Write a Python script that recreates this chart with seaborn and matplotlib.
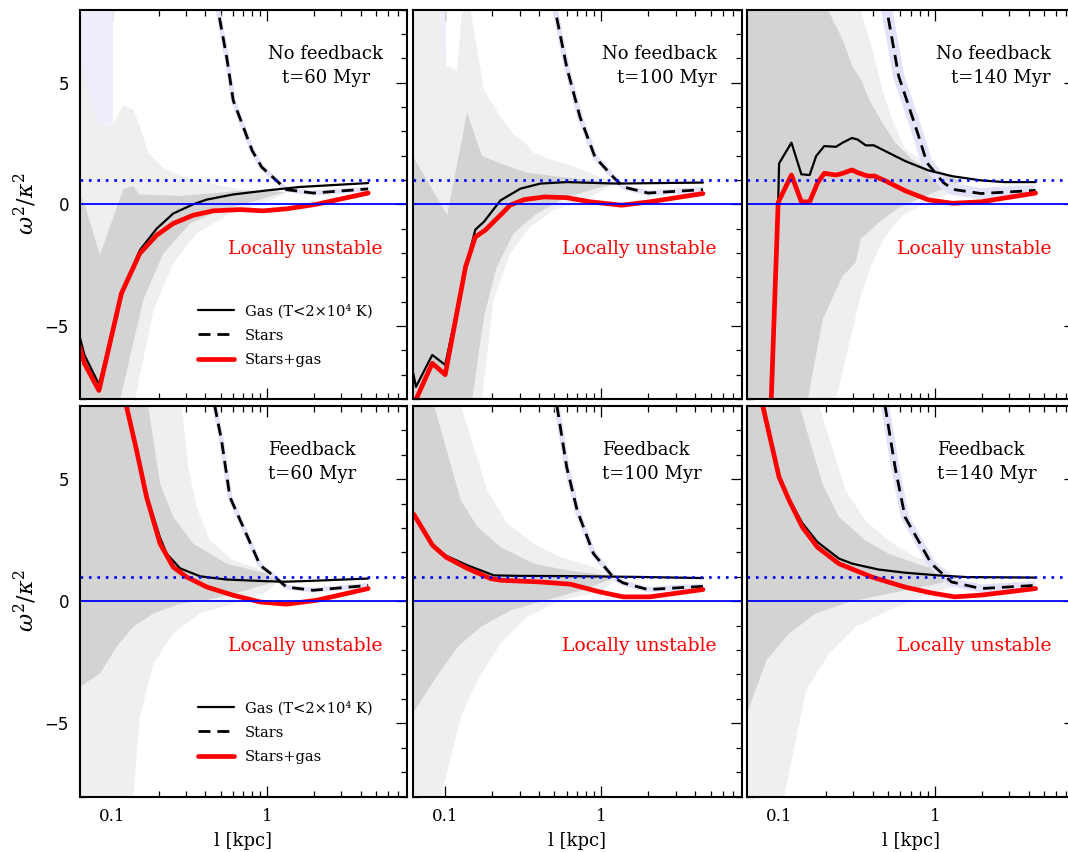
import numpy as np
import matplotlib
matplotlib.use("Agg")
import matplotlib.pyplot as plt
import seaborn as sns
from matplotlib.ticker import FixedLocator, FixedFormatter, MultipleLocator, NullFormatter
from matplotlib.lines import Line2D

# ---------------- data ----------------
# Panel A : No feedback, t=60 Myr
A_gas_l = [0.062, 0.0665, 0.0824, 0.118, 0.151, 0.194, 0.248, 0.334, 0.407, 0.60, 1.0, 1.62, 4.47]
A_gas_v = [-5.46, -6.2, -7.4, -3.5, -1.89, -1.0, -0.38, 0.0, 0.19, 0.40, 0.57, 0.71, 0.87]
A_sg_l = [0.062, 0.0665, 0.0824, 0.115, 0.151, 0.194, 0.248, 0.334, 0.449, 0.667, 0.94, 1.33, 2.08, 4.47]
A_sg_v = [-5.85, -6.55, -7.65, -3.66, -2.02, -1.27, -0.79, -0.45, -0.27, -0.22, -0.27, -0.19, 0.0, 0.46]
A_st_l = [0.47, 0.483, 0.548, 0.604, 0.68, 0.80, 0.92, 1.33, 1.98, 4.47]
A_st_v = [8.6, 7.95, 6.04, 4.26, 3.4, 2.2, 1.53, 0.6, 0.46, 0.63]
A_lg_hi_l = [0.0622, 0.0817, 0.102, 0.118, 0.137, 0.151, 0.171, 0.214, 0.274, 0.45, 0.667, 1.0, 1.35]
A_lg_hi_v = [5.94, 3.28, 3.28, 4.06, 3.89, 3.21, 2.12, 1.5, 1.16, 0.82, 0.61, 0.55, 0.5]
A_lg_lo_l = [0.0622, 0.13, 0.141, 0.185, 0.248, 0.35, 0.575, 0.94, 1.35]
A_lg_lo_v = [-9, -9, -8, -4.34, -2.43, -1.2, -0.38, 0.03, 0.5]
A_dg_hi_l = [0.0622, 0.0667, 0.0836, 0.118, 0.137, 0.15, 0.274, 0.45, 0.667, 1.0, 1.3]
A_dg_hi_v = [0.41, 0.0, -2.09, 0.61, 0.75, 0.4, 0.34, 0.45, 0.55, 0.55, 0.5]
A_dg_lo_l = [0.0622, 0.105, 0.113, 0.159, 0.214, 0.318, 0.496, 0.8, 1.3]
A_dg_lo_v = [-9, -9, -8, -3.93, -2.02, -0.79, -0.25, 0.1, 0.5]
A_patch_l = [0.0622, 0.102, 0.102, 0.0622]
A_patch_v = [9, 9, 3.28, 3.28]

# Panel B : No feedback, t=100 Myr
B_gas_l = [0.0622, 0.065, 0.0826, 0.1, 0.138, 0.156, 0.177, 0.226, 0.303, 0.407, 0.6, 1.25, 4.47]
B_gas_v = [-6.9, -7.5, -6.19, -6.6, -2.36, -1.04, -0.72, 0.16, 0.64, 0.85, 0.91, 0.85, 0.89]
B_sg_l = [0.0622, 0.0826, 0.1, 0.135, 0.156, 0.18, 0.237, 0.26, 0.32, 0.43, 0.6, 0.85, 1.35, 2.04, 4.47]
B_sg_v = [-8.3, -6.53, -7.0, -2.57, -1.34, -1.07, -0.31, -0.04, 0.19, 0.3, 0.27, 0.1, -0.04, 0.1, 0.44]
B_st_l = [0.49, 0.507, 0.6, 0.73, 0.91, 1.19, 1.38, 1.99, 4.47]
B_st_v = [8.6, 7.95, 5.63, 3.58, 1.94, 1.12, 0.71, 0.46, 0.6]
B_lg_hi_l = [0.0622, 0.0895, 0.1, 0.119, 0.128, 0.145, 0.177, 0.225, 0.274, 0.317, 0.367, 0.47, 0.66, 0.9, 1.25]
B_lg_hi_v = [12, 8.5, 5.74, 5.46, 8.0, 8.0, 4.71, 3.62, 2.87, 2.6, 2.12, 1.84, 1.57, 1.2, 0.85]
B_lg_lo_l = [0.0622, 0.165, 0.172, 0.204, 0.26, 0.35, 0.49, 0.73, 1.25]
B_lg_lo_v = [-9, -9, -8, -3.93, -2.02, -0.93, -0.25, 0.1, 0.85]
B_dg_hi_l = [0.0622, 0.103, 0.138, 0.172, 0.249, 0.333, 0.49, 0.8, 1.2]
B_dg_hi_v = [1.98, -0.45, 3.76, 1.98, 1.57, 1.3, 1.16, 1.0, 0.85]
B_dg_lo_l = [0.0622, 0.14, 0.149, 0.177, 0.214, 0.274, 0.385, 0.6, 1.0, 1.2]
B_dg_lo_v = [-9, -9, -8, -4.62, -2.57, -1.2, -0.38, 0.3, 0.7, 0.85]
B_patch_l = [0.0895, 0.101, 0.101, 0.0895]
B_patch_v = [9, 9, 5.6, 7.0]

# Panel C : No feedback, t=140 Myr
C_gas_l = [0.0885, 0.0986, 0.1, 0.12, 0.139, 0.157, 0.173, 0.195, 0.232, 0.256, 0.293, 0.319, 0.36, 0.406,
           0.482, 0.647, 0.91, 1.3, 1.98, 2.79, 4.44]
C_gas_v = [-8.5, 0.05, 1.68, 2.53, 1.23, 1.2, 1.98, 2.39, 2.36, 2.53, 2.72, 2.66, 2.42, 2.42,
           2.18, 1.77, 1.39, 1.15, 0.98, 0.91, 0.91]
C_sg_l = [0.0885, 0.0986, 0.12, 0.139, 0.157, 0.177, 0.195, 0.232, 0.256, 0.293, 0.32, 0.37, 0.41,
          0.482, 0.647, 0.91, 1.3, 1.98, 4.44]
C_sg_v = [-8.5, 0.07, 1.2, 0.1, 0.1, 0.89, 1.27, 1.2, 1.27, 1.41, 1.3, 1.16, 1.16,
          0.96, 0.55, 0.18, 0.04, 0.1, 0.46]
C_st_l = [0.48, 0.494, 0.586, 0.68, 0.787, 0.889, 1.135, 1.31, 1.98, 4.44]
C_st_v = [8.6, 7.92, 5.26, 4.03, 2.8, 1.71, 0.89, 0.61, 0.44, 0.57]
C_lg_hi_l = [0.0622, 0.334, 0.397, 0.46, 0.532, 0.647, 0.91, 1.41, 1.6]
C_lg_hi_v = [12, 8.0, 6.35, 4.71, 3.48, 2.25, 1.64, 1.02, 0.95]
C_lg_lo_l = [0.0622, 0.225, 0.232, 0.334, 0.397, 0.482, 0.616, 0.91, 1.41, 1.6]
C_lg_lo_v = [-9, -9, -8, -3.76, -2.39, -1.3, -0.48, 0.14, 0.55, 0.95]
C_dg_hi_l = [0.0622, 0.205, 0.256, 0.296, 0.343, 0.378, 0.46, 0.558, 0.714, 0.91, 1.28, 1.5]
C_dg_hi_v = [12, 8.0, 6.76, 5.67, 4.99, 4.3, 3.35, 2.53, 1.84, 1.43, 1.09, 0.95]
C_dg_lo_l = [0.0622, 0.145, 0.153, 0.191, 0.256, 0.311, 0.334, 0.437, 0.586, 0.87, 1.5]
C_dg_lo_v = [-9, -9, -8, -4.71, -2.94, -2.39, -1.43, -0.75, -0.14, 0.34, 0.95]

# Panel D : Feedback, t=60 Myr
D_gas_l = [0.118, 0.124, 0.144, 0.167, 0.204, 0.225, 0.274, 0.37, 0.548, 1.0, 1.3, 2.0, 4.47]
D_gas_v = [8.6, 8.0, 6.25, 4.35, 2.6, 1.95, 1.35, 1.02, 0.89, 0.82, 0.8, 0.84, 0.93]
D_sg_l = [0.118, 0.124, 0.144, 0.167, 0.204, 0.248, 0.303, 0.41, 0.6, 0.9, 1.33, 2.08, 4.47]
D_sg_v = [8.6, 7.98, 6.18, 4.27, 2.36, 1.4, 0.99, 0.58, 0.25, -0.03, -0.12, 0.04, 0.52]
D_st_l = [0.44, 0.46, 0.508, 0.575, 0.70, 0.9, 1.09, 1.33, 1.98, 4.47]
D_st_v = [8.8, 7.98, 6.58, 4.27, 3.04, 1.47, 1.06, 0.58, 0.45, 0.65]
D_lg_hi_l = [0.0622, 0.282, 0.31, 0.351, 0.427, 0.604, 1.0, 1.2]
D_lg_hi_v = [12, 8.0, 5.49, 3.86, 2.49, 1.68, 1.2, 0.9]
D_lg_lo_l = [0.0622, 0.13, 0.137, 0.151, 0.185, 0.248, 0.369, 0.604, 1.0, 1.2]
D_lg_lo_v = [-9, -9, -8, -4.73, -2.55, -1.32, -0.5, -0.1, 0.4, 0.9]
D_dg_hi_l = [0.0622, 0.171, 0.204, 0.248, 0.334, 0.548, 1.0, 1.15]
D_dg_hi_v = [12, 8.0, 4.81, 3.45, 2.36, 1.54, 1.13, 0.9]
D_dg_lo_l = [0.0622, 0.0837, 0.107, 0.137, 0.185, 0.274, 0.41, 0.6, 1.0, 1.15]
D_dg_lo_v = [-3.5, -2.96, -1.87, -1.05, -0.5, -0.1, 0.05, 0.3, 0.7, 0.9]

# Panel E : Feedback, t=100 Myr
E_gas_l = [0.062, 0.0635, 0.083, 0.101, 0.139, 0.205, 0.289, 0.6, 1.59, 4.47]
E_gas_v = [3.6, 3.52, 2.32, 1.87, 1.47, 1.06, 1.04, 1.03, 1.0, 0.95]
E_sg_l = [0.062, 0.0635, 0.083, 0.101, 0.139, 0.195, 0.226, 0.407, 0.632, 0.98, 1.38, 2.04, 4.47]
E_sg_v = [3.6, 3.52, 2.29, 1.81, 1.34, 0.93, 0.86, 0.79, 0.7, 0.38, 0.18, 0.18, 0.48]
E_st_l = [0.5, 0.52, 0.6, 0.70, 0.89, 1.19, 1.38, 1.99, 4.47]
E_st_v = [8.8, 7.98, 5.49, 3.72, 1.95, 0.99, 0.75, 0.48, 0.61]
E_lg_hi_l = [0.0622, 0.126, 0.186, 0.25, 0.369, 0.545, 0.89, 1.3]
E_lg_hi_v = [12, 8.0, 4.54, 3.18, 2.36, 1.81, 1.4, 0.95]
E_lg_lo_l = [0.0622, 0.09, 0.094, 0.126, 0.161, 0.226, 0.335, 0.545, 0.98, 1.3]
E_lg_lo_v = [-9, -9, -8, -4.73, -3.23, -1.73, -0.64, 0.04, 0.38, 0.95]
E_dg_hi_l = [0.0622, 0.085, 0.126, 0.161, 0.226, 0.369, 0.6, 0.98, 1.2]
E_dg_hi_v = [12, 8.0, 4.13, 3.04, 2.22, 1.54, 1.27, 1.1, 0.95]
E_dg_lo_l = [0.0622, 0.085, 0.12, 0.169, 0.262, 0.42, 0.75, 1.2]
E_dg_lo_v = [-4.59, -3.23, -1.87, -1.05, -0.37, 0.0, 0.45, 0.95]

# Panel F : Feedback, t=140 Myr
F_gas_l = [0.076, 0.0787, 0.1, 0.116, 0.141, 0.176, 0.242, 0.295, 0.435, 0.644, 1.05, 1.6, 4.44]
F_gas_v = [8.8, 7.98, 5.15, 4.2, 3.2, 2.43, 1.75, 1.54, 1.3, 1.17, 1.06, 0.99, 0.97]
F_sg_l = [0.076, 0.0787, 0.1, 0.116, 0.141, 0.176, 0.242, 0.395, 0.644, 0.95, 1.34, 1.98, 4.44]
F_sg_v = [8.8, 7.98, 5.08, 4.13, 3.04, 2.22, 1.54, 0.99, 0.58, 0.34, 0.18, 0.25, 0.52]
F_st_l = [0.46, 0.48, 0.556, 0.644, 0.783, 0.95, 1.28, 1.98, 4.44]
F_st_v = [8.8, 7.98, 5.49, 3.45, 2.49, 1.54, 0.79, 0.52, 0.65]
F_lg_hi_l = [0.0622, 0.181, 0.267, 0.358, 0.504, 0.746, 1.16, 1.4]
F_lg_hi_v = [12, 8.0, 4.54, 3.31, 2.49, 1.81, 1.34, 0.95]
F_lg_lo_l = [0.0622, 0.104, 0.108, 0.149, 0.21, 0.31, 0.504, 0.822, 1.34, 1.4]
F_lg_lo_v = [-9, -9, -8, -3.64, -2.14, -1.05, -0.37, 0.18, 0.6, 0.95]
F_dg_hi_l = [0.0622, 0.135, 0.19, 0.242, 0.358, 0.504, 0.822, 1.2, 1.35]
F_dg_hi_v = [12, 8.0, 4.81, 3.45, 2.49, 1.95, 1.47, 1.2, 0.95]
F_dg_lo_l = [0.0622, 0.083, 0.116, 0.172, 0.28, 0.504, 1.05, 1.35]
F_dg_lo_v = [-4.59, -2.41, -1.32, -0.5, -0.03, 0.31, 0.72, 0.95]

titles_top = ["No feedback", "No feedback", "No feedback"]
titles_bot = ["Feedback", "Feedback", "Feedback"]
times = ["t=60 Myr", "t=100 Myr", "t=140 Myr"]
legend_labels = ["Gas (T<2\u00d710\u2074 K)", "Stars", "Stars+gas"]
unstable_label = "Locally unstable"
x_ticks = [0.1, 1]
x_ticklabels = ["0.1", "1"]
y_ticks = [-5, 0, 5]
y_ticklabels = ["\u22125", "0", "5"]

# ---------------- style ----------------
sns.set_theme(style="ticks")
plt.rcParams["font.family"] = ["DejaVu Serif"]
plt.rcParams["mathtext.fontset"] = "dejavuserif"
plt.rcParams["text.color"] = "black"
plt.rcParams["axes.labelcolor"] = "black"
plt.rcParams["xtick.color"] = "black"
plt.rcParams["ytick.color"] = "black"
plt.rcParams["xtick.labelcolor"] = "black"
plt.rcParams["ytick.labelcolor"] = "black"

LG = "#efefef"
DG = "#d3d3d3"
LAV = "#e2e2fa"
LAV_LIGHT = "#ededfc"
BLUE = "#0000ff"
RED = "#ff0000"

W, H = 1068, 852
fig = plt.figure(figsize=(W / 100, H / 100), dpi=100)

col_left = [80, 413, 747]
col_w = [327, 329, 328]
row_top = [9.5, 406]
row_h = [389.5, 390.5]
legend_top_px = [304, 701]

def band(ax, hl, hv, ll, lv, color, z):
    xs = np.r_[np.asarray(hl), np.asarray(ll)[::-1]]
    ys = np.r_[np.asarray(hv), np.asarray(lv)[::-1]]
    ax.fill(xs, ys, color=color, lw=0, zorder=z)

panels = [
    [("A", A_gas_l, A_gas_v, A_sg_l, A_sg_v, A_st_l, A_st_v, A_lg_hi_l, A_lg_hi_v, A_lg_lo_l, A_lg_lo_v,
      A_dg_hi_l, A_dg_hi_v, A_dg_lo_l, A_dg_lo_v, (A_patch_l, A_patch_v), 3.5),
     ("B", B_gas_l, B_gas_v, B_sg_l, B_sg_v, B_st_l, B_st_v, B_lg_hi_l, B_lg_hi_v, B_lg_lo_l, B_lg_lo_v,
      B_dg_hi_l, B_dg_hi_v, B_dg_lo_l, B_dg_lo_v, (B_patch_l, B_patch_v), 4),
     ("C", C_gas_l, C_gas_v, C_sg_l, C_sg_v, C_st_l, C_st_v, C_lg_hi_l, C_lg_hi_v, C_lg_lo_l, C_lg_lo_v,
      C_dg_hi_l, C_dg_hi_v, C_dg_lo_l, C_dg_lo_v, None, 8)],
    [("D", D_gas_l, D_gas_v, D_sg_l, D_sg_v, D_st_l, D_st_v, D_lg_hi_l, D_lg_hi_v, D_lg_lo_l, D_lg_lo_v,
      D_dg_hi_l, D_dg_hi_v, D_dg_lo_l, D_dg_lo_v, None, 3.5),
     ("E", E_gas_l, E_gas_v, E_sg_l, E_sg_v, E_st_l, E_st_v, E_lg_hi_l, E_lg_hi_v, E_lg_lo_l, E_lg_lo_v,
      E_dg_hi_l, E_dg_hi_v, E_dg_lo_l, E_dg_lo_v, None, 4),
     ("F", F_gas_l, F_gas_v, F_sg_l, F_sg_v, F_st_l, F_st_v, F_lg_hi_l, F_lg_hi_v, F_lg_lo_l, F_lg_lo_v,
      F_dg_hi_l, F_dg_hi_v, F_dg_lo_l, F_dg_lo_v, None, 6)],
]

DASH = (0, (4.3, 2.5))

for r in range(2):
    for c in range(3):
        (name, gl, gv, sl, sv, stl, stv, lhl, lhv, lll, llv, dhl, dhv, dll, dlv, patch, halo) = panels[r][c]
        ax = fig.add_axes([col_left[c] / W, 1 - (row_top[r] + row_h[r]) / H, col_w[c] / W, row_h[r] / H])
        ax.set_xscale("log")
        ax.set_xlim(0.0622, 7.95)
        ax.set_ylim(-8, 8)

        if patch is not None:
            ax.fill(patch[0], patch[1], color=LAV_LIGHT, lw=0, zorder=1.0)
        band(ax, lhl, lhv, lll, llv, LG, 1.1)
        band(ax, dhl, dhv, dll, dlv, DG, 1.2)

        sns.lineplot(x=stl, y=stv, ax=ax, color=LAV, lw=halo, estimator=None, sort=False,
                     legend=False, zorder=2, solid_capstyle="butt")
        sns.lineplot(x=gl, y=gv, ax=ax, color="black", lw=1.6, estimator=None, sort=False,
                     legend=False, zorder=3)
        sns.lineplot(x=stl, y=stv, ax=ax, color="black", lw=2.0, linestyle=DASH, estimator=None,
                     sort=False, legend=False, zorder=3.5)
        sns.lineplot(x=sl, y=sv, ax=ax, color=RED, lw=3.4, estimator=None, sort=False,
                     legend=False, zorder=4)
        ax.axhline(0, color=BLUE, lw=1.3, zorder=5)
        ax.axhline(1, color=BLUE, lw=1.9, linestyle=(0, (1, 2.2)), zorder=5)

        # axes cosmetics
        for s in ax.spines.values():
            s.set_linewidth(1.5)
            s.set_color("black")
            s.set_zorder(10)
        ax.xaxis.set_major_locator(FixedLocator(x_ticks))
        ax.xaxis.set_major_formatter(FixedFormatter(x_ticklabels))
        ax.xaxis.set_minor_locator(FixedLocator([0.07, 0.08, 0.09, 0.2, 0.3, 0.4, 0.5, 0.6, 0.7, 0.8, 0.9,
                                                 2, 3, 4, 5, 6, 7]))
        ax.xaxis.set_minor_formatter(NullFormatter())
        ax.yaxis.set_major_locator(FixedLocator(y_ticks))
        ax.yaxis.set_major_formatter(FixedFormatter(y_ticklabels))
        ax.yaxis.set_minor_locator(MultipleLocator(1))
        ax.tick_params(which="both", direction="in", top=True, right=True, width=0.9,
                       color="black", labelcolor="black")
        ax.tick_params(which="major", length=8, pad=8)
        ax.tick_params(which="minor", length=4.5)
        ax.tick_params(axis="x", labelsize=12)
        ax.tick_params(axis="y", labelsize=12)
        ax.tick_params(labelbottom=(r == 1), labelleft=(c == 0))
        for t in ax.get_yticklabels():
            t.set_family("DejaVu Sans")
        ax.set_xlabel("")
        ax.set_ylabel("")

        # texts
        if r == 0:
            cx = [325.5, 659, 994][c]
            cx2 = [326, 667, 1001][c]
            fig.text(cx / W, 1 - 59.3 / H, titles_top[c], ha="center", va="baseline", fontsize=13,
                     color="black")
            fig.text(cx2 / W, 1 - 83.3 / H, times[c], ha="center", va="baseline", fontsize=13,
                     color="black")
            fig.text([305.5, 639.3, 973.8][c] / W, 1 - 254 / H, unstable_label, ha="center",
                     va="baseline", fontsize=13.5, color=RED)
        else:
            lx = [268, 602, 937][c]
            fig.text(lx / W, 1 - 455 / H, titles_bot[c], ha="left", va="baseline", fontsize=13,
                     color="black")
            fig.text(lx / W, 1 - 479.3 / H, times[c], ha="left", va="baseline", fontsize=13,
                     color="black")
            fig.text([305.5, 639.3, 973.8][c] / W, 1 - 650.7 / H, unstable_label, ha="center",
                     va="baseline", fontsize=13.5, color=RED)

        if c == 0:
            handles = [Line2D([], [], color="black", lw=1.6),
                       Line2D([], [], color="black", lw=2.0, linestyle=DASH),
                       Line2D([], [], color=RED, lw=3.4)]
            y0 = 1 - (legend_top_px[r] - row_top[r]) / row_h[r]
            leg = ax.legend(handles, legend_labels, loc="upper left",
                            bbox_to_anchor=((198 - 80) / 327, y0),
                            frameon=False, borderpad=0, borderaxespad=0, fontsize=10.5,
                            handlelength=2.5, handletextpad=0.7, labelspacing=0.7)
            for t in leg.get_texts():
                t.set_color("black")

# axis labels
fig.text(25 / W, 1 - 204 / H, r"$\omega^2/\kappa^2$", rotation=90, ha="center", va="center",
         fontsize=16, color="black")
fig.text(25 / W, 1 - 601 / H, r"$\omega^2/\kappa^2$", rotation=90, ha="center", va="center",
         fontsize=16, color="black")
for c in range(3):
    fig.text((col_left[c] + col_w[c] / 2) / W, 1 - 841 / H, "l [kpc]", ha="center", va="center",
             fontsize=13, color="black")

fig.savefig("out.png", dpi=100)
